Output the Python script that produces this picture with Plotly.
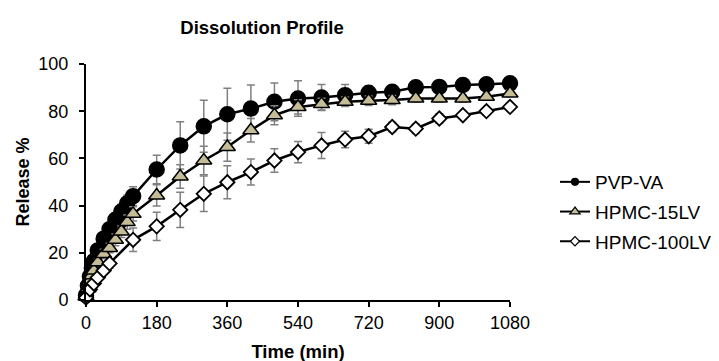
import plotly.graph_objects as go

# ---- data ----
t_pvp = [0, 5, 10, 15, 20, 30, 45, 60, 75, 90, 105, 120, 180, 240, 300, 360, 420,
         480, 540, 600, 660, 720, 780, 840, 900, 960, 1020, 1080]
pvp = [2, 6, 10, 13.5, 16.5, 21, 26, 30, 34, 37.5, 41, 44, 55.3, 65.5, 73.6, 78.7, 81.1,
       84, 85.4, 85.8, 86.8, 87.8, 88.2, 90.1, 90.3, 91.1, 91.4, 91.8]
pvp_err = [0.5, 1, 1, 1.5, 1.5, 2, 2, 2.5, 3, 3, 3.5, 4, 6, 10, 11, 11, 10,
           8, 7.5, 5.5, 4.5, 3, 2, 1.5, 1.5, 1, 1, 1]

t_h15 = [0, 5, 10, 15, 20, 30, 45, 60, 75, 90, 105, 120, 180, 240, 300, 360, 420,
         480, 540, 600, 660, 720, 780, 840, 900, 960, 1020, 1080]
h15 = [1.5, 5, 8, 10.5, 12.5, 16, 19.5, 22, 25.5, 29, 33, 36.5, 44.3, 52.3, 59.1, 64.8, 71.9,
       78.3, 81.8, 83, 84, 84.4, 84.7, 85.4, 85.4, 85.4, 86.1, 87.5]
h15_err = [0.5, 1, 1, 1, 1.5, 1.5, 2, 2, 2.5, 2.5, 3, 3, 4.5, 5, 6, 6, 5,
           4, 3, 2.5, 2, 2, 2, 1.5, 1.5, 1.5, 1.5, 1.5]

t_h100 = [0, 10, 20, 30, 45, 60, 120, 180, 240, 300, 360, 420,
          480, 540, 600, 660, 720, 780, 840, 900, 960, 1020, 1080]
h100 = [1, 4.5, 7, 9.5, 12.5, 15.5, 25.5, 31.2, 38.2, 45, 49.9, 54.2,
        59.1, 62.7, 65.5, 68, 69.4, 73.3, 72.6, 76.9, 78.3, 80, 81.8]
h100_err = [0.5, 1, 1, 1.5, 1.5, 2, 5, 6, 7.5, 7.5, 7, 5.5,
            5, 4.5, 5.5, 3.5, 3, 2, 2, 2, 1.5, 1.5, 1.5]

names = ["PVP-VA", "HPMC-15LV", "HPMC-100LV"]
x_ticks = [0, 180, 360, 540, 720, 900, 1080]
y_ticks = [0, 20, 40, 60, 80, 100]

FONT = "Liberation Sans, Arial, sans-serif"
ERR = dict(type="data", visible=True, color="#808080", thickness=1.5, width=4)

series = [
    (names[0], t_pvp, pvp, pvp_err, dict(symbol="circle", size=15, color="black",
                                         line=dict(color="black", width=1.5)), 7),
    (names[1], t_h15, h15, h15_err, dict(symbol="triangle-up", size=14, color="#C4BD97",
                                         line=dict(color="black", width=1.5)), 9),
    (names[2], t_h100, h100, h100_err, dict(symbol="diamond", size=11, color="white",
                                            line=dict(color="black", width=1.8)), 7),
]

fig = go.Figure()
for name, tx, vy, err, mk, lsize in series:
    fig.add_trace(go.Scatter(
        x=tx, y=vy, mode="lines+markers", name=name, showlegend=False,
        line=dict(color="black", width=2.5), marker=mk,
        error_y=dict(array=err, **ERR), cliponaxis=False))
for name, tx, vy, err, mk, lsize in series:
    small = dict(mk)
    small["size"] = lsize
    small["line"] = dict(color="black", width=1.2)
    fig.add_trace(go.Scatter(
        x=[None], y=[None], mode="lines+markers", name=name, showlegend=True,
        legendgroup=name,
        line=dict(color="black", width=2), marker=small))

# the page body has an 8px margin, so positions are shifted by -8px
fig.update_layout(
    width=719, height=361,
    paper_bgcolor="white", plot_bgcolor="white",
    margin=dict(l=78, r=217, t=56, b=69, autoexpand=False),
    font=dict(family=FONT, color="black", size=18),
    title=dict(text="<b>Dissolution Profile</b>", font=dict(size=18.5, family=FONT),
               xref="container", x=254 / 719, xanchor="center",
               yref="container", y=1 - 20 / 361, yanchor="middle"),
    legend=dict(xref="container", x=547 / 719, xanchor="left",
                yref="container", y=1 - 204 / 361, yanchor="middle",
                font=dict(size=19, family=FONT), bgcolor="rgba(0,0,0,0)",
                tracegroupgap=2),
    showlegend=True,
)
fig.update_xaxes(range=[0, 1080], tickvals=x_ticks, ticktext=[str(v) for v in x_ticks],
                 showgrid=False, zeroline=False, showline=True, linecolor="black", linewidth=2,
                 ticks="outside", ticklen=5, tickwidth=1.5, tickcolor="black",
                 tickfont=dict(size=18), automargin=False,
                 title=dict(text="<b>Time (min)</b>", font=dict(size=18.5), standoff=13))
fig.update_yaxes(range=[0, 100], tickvals=y_ticks,
                 showgrid=False, zeroline=False, showline=True, linecolor="black", linewidth=2,
                 ticks="outside", ticklen=5, tickwidth=1.5, tickcolor="black",
                 tickfont=dict(size=18), automargin=False, ticklabelstandoff=7,
                 title=dict(text="<b>Release %</b>", font=dict(size=18), standoff=4))

fig.write_html("out.html")
